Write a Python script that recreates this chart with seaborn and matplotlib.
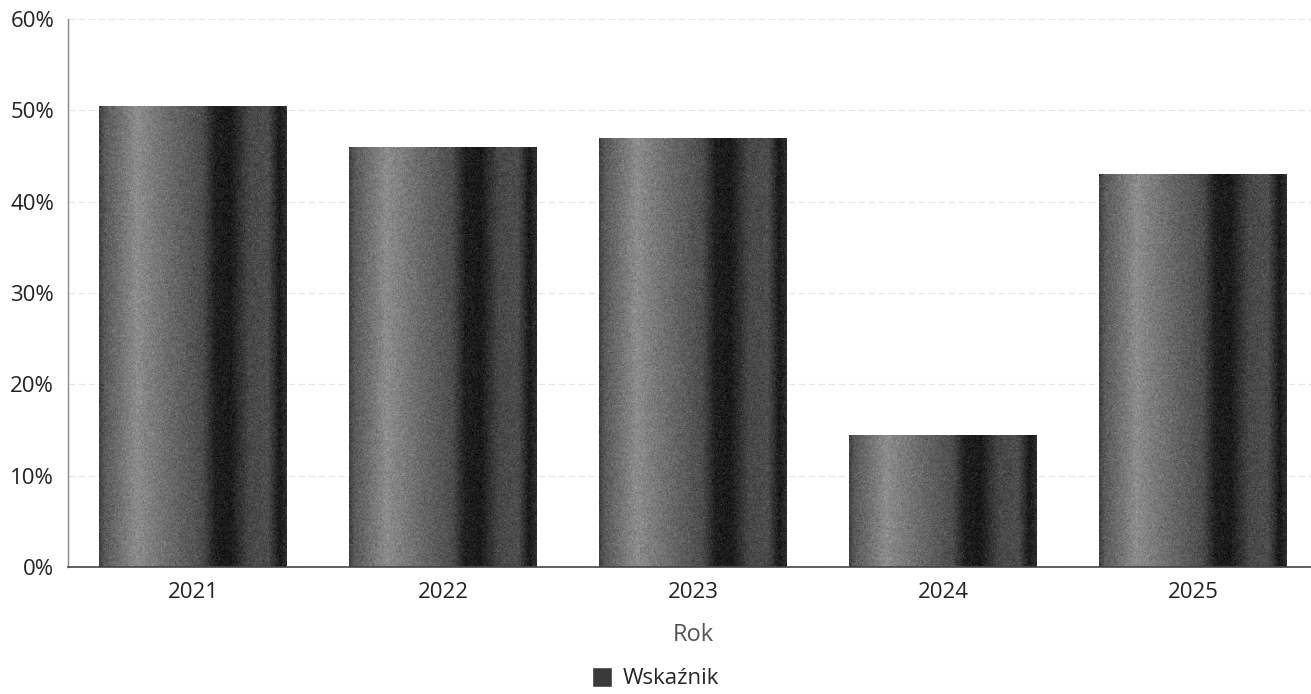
import numpy as np
import pandas as pd
import matplotlib
matplotlib.use("Agg")
import matplotlib.pyplot as plt
from matplotlib.patches import Patch
import seaborn as sns

years = ["2021", "2022", "2023", "2024", "2025"]
values = [50.5, 46.0, 47.0, 14.5, 43.0]
y_ticks = [0, 10, 20, 30, 40, 50, 60]
series_name = "Wskaźnik"
x_label = "Rok"

df = pd.DataFrame({"Rok": years, "value": values})

sns.set_style("white")
plt.rcParams["font.family"] = ["Open Sans", "DejaVu Sans"]

fig = plt.figure(figsize=(13.11, 6.94), dpi=100)
ax = fig.add_axes([0.0519, 0.183, 0.9535, 0.7896])

sns.barplot(data=df, x="Rok", y="value", color="#555555", width=0.75, ax=ax)

# horizontal shading across each bar (dark edge, light band, dark stripe)
stops = [0.0, 0.03, 0.2, 0.4, 0.55, 0.62, 0.7, 0.8, 0.9, 0.96, 1.0]
levels = [0.25, 0.35, 0.55, 0.40, 0.30, 0.12, 0.10, 0.28, 0.30, 0.10, 0.18]
xs = np.linspace(0, 1, 300)
shade = np.interp(xs, stops, levels)
rng = np.random.default_rng(3)
for p in ax.patches:
    x0, y0 = p.get_x(), p.get_y()
    w, h = p.get_width(), p.get_height()
    noise = rng.normal(0, 0.05, (int(h * 8) + 20, xs.size))
    img = np.clip(shade[None, :] + noise, 0, 1)
    im = ax.imshow(img, cmap="gray", vmin=0, vmax=1, aspect="auto",
                   extent=[x0, x0 + w, y0, y0 + h], zorder=2,
                   interpolation="antialiased")
    im.set_clip_path(p)
    p.set_facecolor("none")
    p.set_edgecolor("none")

ax.set_xlim(-0.5, len(years) - 0.5)
ax.set_ylim(0, 60)
ax.set_yticks(y_ticks)
ax.set_yticklabels([f"{t}%" for t in y_ticks])
ax.yaxis.grid(True, color="#e6e6e6", linestyle=(0, (6, 3)), linewidth=0.8)
ax.set_axisbelow(True)
ax.tick_params(axis="x", length=0, labelsize=16, colors="#222222", pad=11)
ax.tick_params(axis="y", length=0, labelsize=16, colors="#222222", pad=10)
ax.set_ylabel("")
ax.set_xlabel(x_label, fontsize=17, color="#555555", labelpad=14)

for s in ["top", "right"]:
    ax.spines[s].set_visible(False)
ax.spines["left"].set_color("#888888")
ax.spines["left"].set_linewidth(1.0)
ax.spines["bottom"].set_color("#444444")
ax.spines["bottom"].set_linewidth(1.2)

fig.legend(handles=[Patch(facecolor="#3a3a3a", label=series_name)],
           loc="lower center", bbox_to_anchor=(0.5, -0.022), frameon=False,
           fontsize=16, handlelength=0.9, handleheight=1.0, handletextpad=0.5)

fig.savefig("out.png", dpi=100)
